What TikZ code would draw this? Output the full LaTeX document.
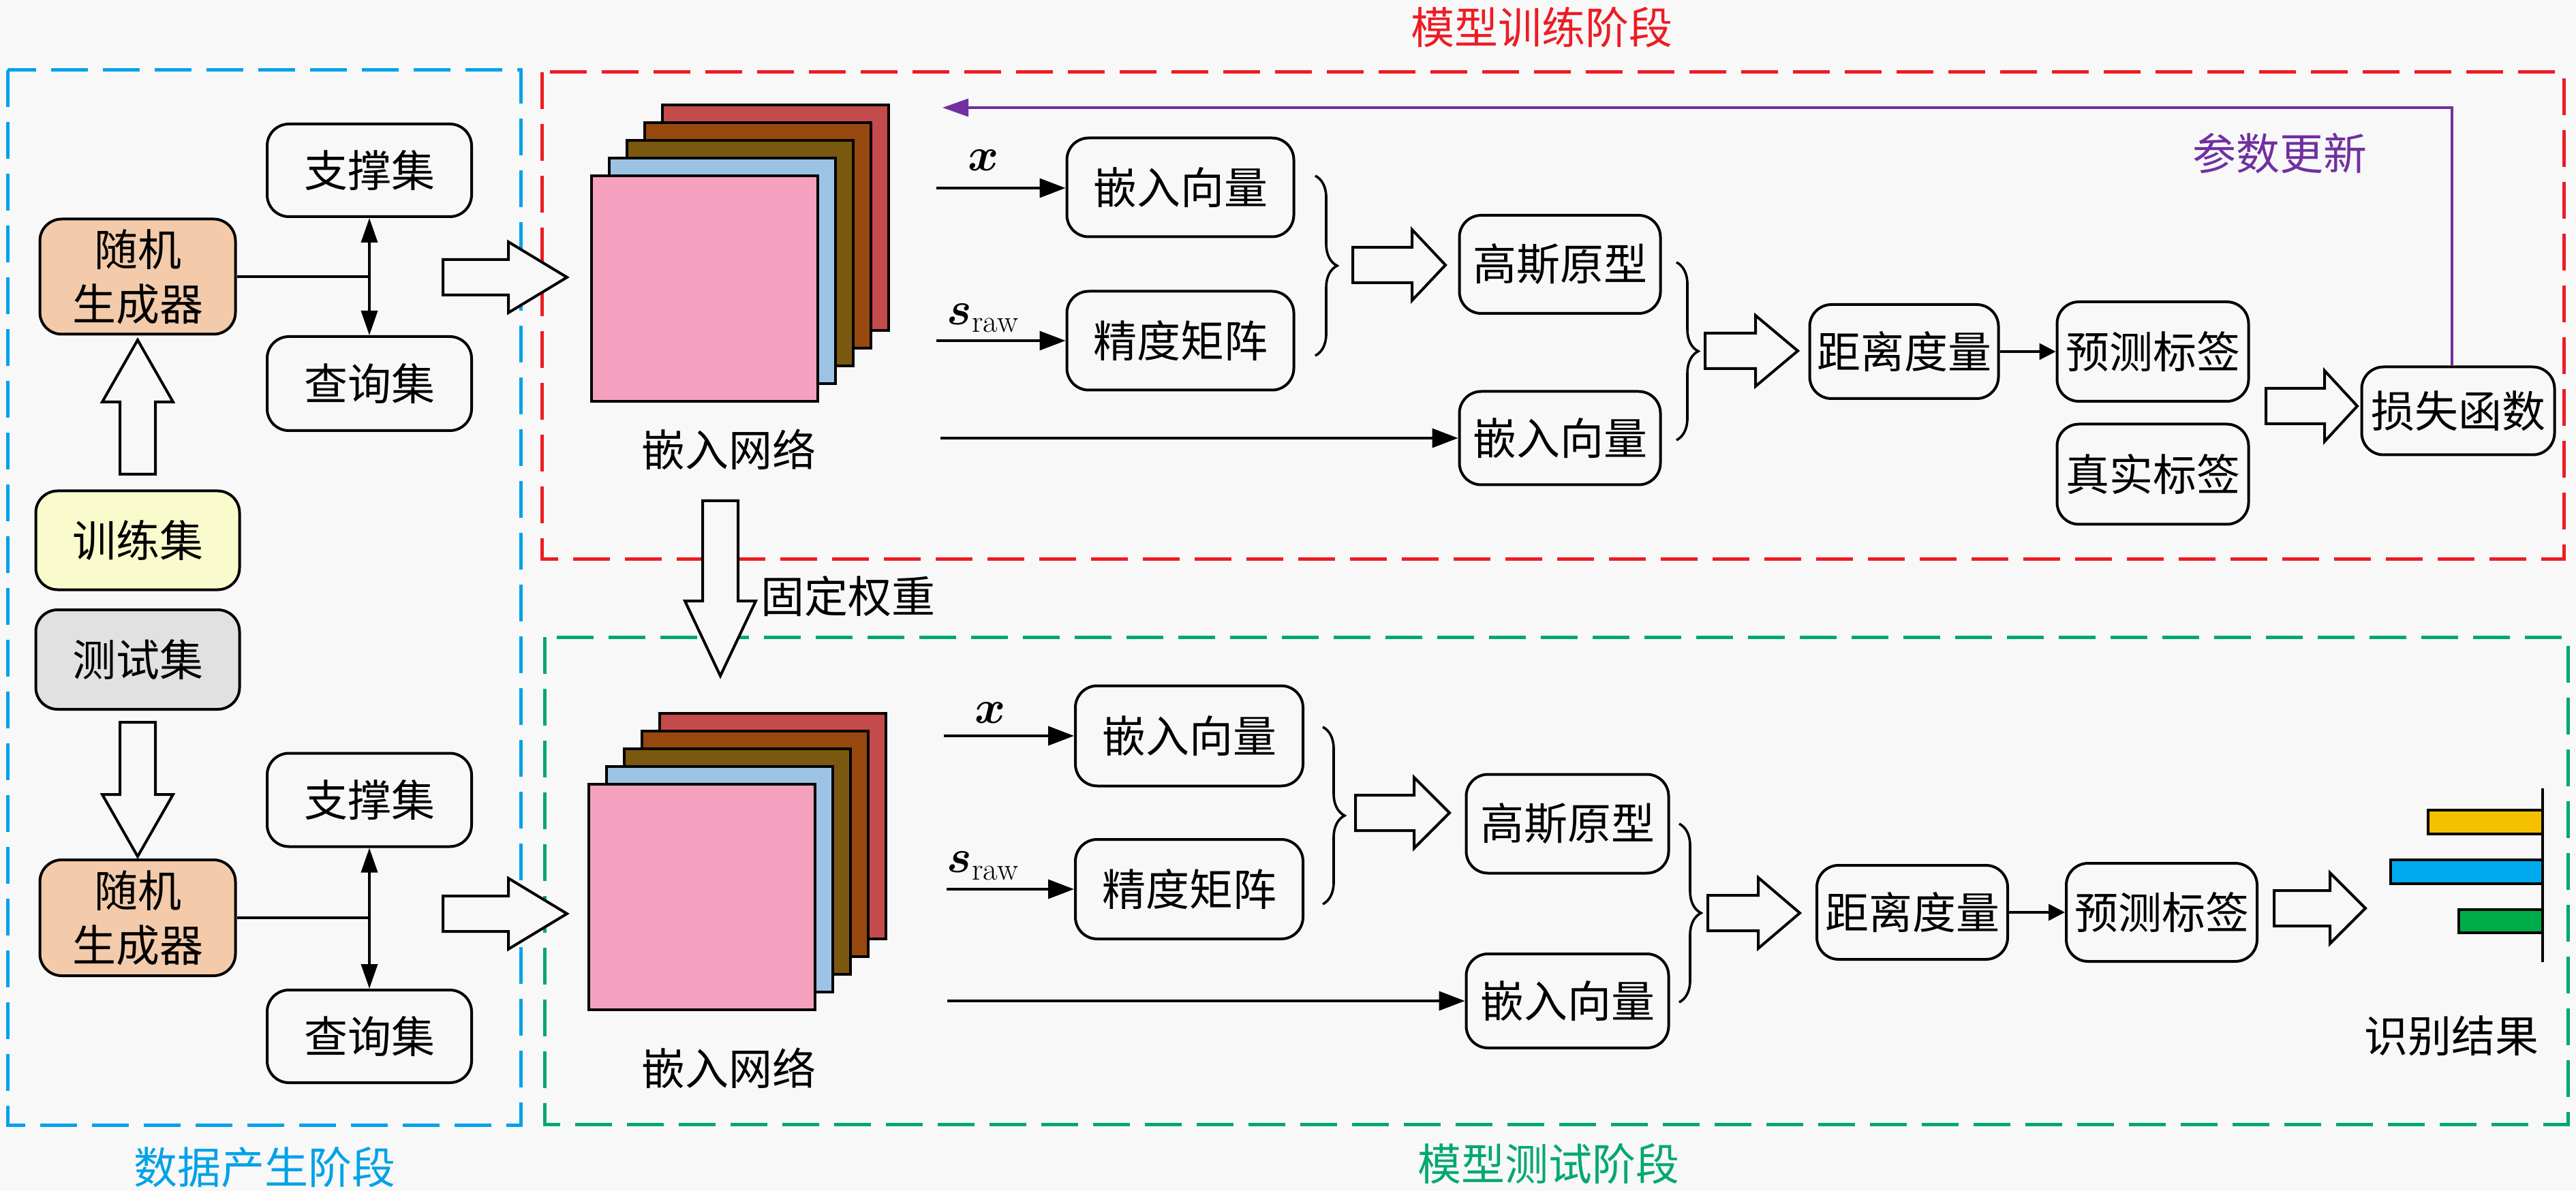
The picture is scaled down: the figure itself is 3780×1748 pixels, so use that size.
\documentclass[tikz,border=0pt]{standalone}
\usepackage{amsmath,amsbsy}
\usepackage{fontspec}
\newfontfamily\cjk{Noto Sans CJK SC}
\usetikzlibrary{arrows.meta,decorations.pathreplacing,calc}
\definecolor{bgc}{RGB}{248,248,248}
\definecolor{bluedash}{RGB}{0,162,232}
\definecolor{reddash}{RGB}{237,28,36}
\definecolor{greendash}{RGB}{0,168,110}
\definecolor{purp}{RGB}{112,48,160}
\definecolor{peach}{RGB}{243,203,170}
\definecolor{lightyellow}{RGB}{250,251,205}
\definecolor{lightgraybox}{RGB}{225,225,225}
\definecolor{laypink}{RGB}{244,160,190}
\definecolor{layblue}{RGB}{157,195,228}
\definecolor{layolive}{RGB}{122,88,16}
\definecolor{laybrown}{RGB}{150,72,14}
\definecolor{layred}{RGB}{195,75,75}
\definecolor{baryellow}{RGB}{245,192,0}
\definecolor{barblue}{RGB}{0,170,240}
\definecolor{bargreen}{RGB}{0,172,72}
% hollow block arrows: right-pointing (tail x, head base x, tip x, centre y)
\newcommand{\harrowR}[4]{\draw[blockarrow] ({#1},{#4-26}) -- ({#2},{#4-26}) -- ({#2},{#4-52}) -- ({#3},{#4}) -- ({#2},{#4+52}) -- ({#2},{#4+26}) -- ({#1},{#4+26}) -- cycle;}
% vertical (centre x, tail y, head base y, tip y)
\newcommand{\harrowV}[4]{\draw[blockarrow] ({#1-26},{#2}) -- ({#1-26},{#3}) -- ({#1-52},{#3}) -- ({#1},{#4}) -- ({#1+52},{#3}) -- ({#1+26},{#3}) -- ({#1+26},{#2}) -- cycle;}
\newcommand{\bigmath}[1]{\scalebox{1.38}{\fontsize{24}{30}\selectfont$#1$}}
\begin{document}
\begin{tikzpicture}[x=0.5pt,y=-0.5pt,
  box/.style={draw, line width=2pt, rounded corners=16pt, font=\cjk\fontsize{32}{40}\selectfont, align=center, inner sep=0pt},
  txt/.style={font=\cjk\fontsize{32}{40}\selectfont, inner sep=0pt},
  mtxt/.style={inner sep=0pt},
  stage/.style={line width=2.5pt, dash pattern=on 27pt off 11pt},
  conn/.style={line width=1.8pt, -{Triangle[length=19pt,width=14pt]}},
  dconn/.style={line width=1.8pt, {Triangle[length=18pt,width=12pt]}-{Triangle[length=18pt,width=12pt]}},
  sconn/.style={line width=1.8pt, -{Triangle[length=12pt,width=12pt]}},
  blockarrow/.style={draw, line width=2pt, fill=bgc, line join=miter},
  layer/.style={draw, line width=2pt, minimum width=166pt, minimum height=165.5pt, inner sep=0pt},
  brc/.style={decorate, decoration={brace, amplitude=16pt}, line width=1.8pt},
  bar/.style={draw, line width=2pt},
]
\fill[bgc] (0,0) rectangle (3780,1748);
\useasboundingbox (0,0) rectangle (3780,1748);

% stage frames
\draw[stage, bluedash] (11,103) rectangle (764,1651);
\draw[stage, reddash] (795,106) rectangle (3762,820);
\draw[stage, greendash] (799,935) rectangle (3768,1650);

% stage titles
\node[txt, text=reddash] (titleTrain) at (2262,40) {模型训练阶段};
\node[txt, text=bluedash] (titleData) at (388,1713) {数据产生阶段};
\node[txt, text=greendash] (titleTest) at (2272,1708) {模型测试阶段};

% ---------------- data generation ----------------
\node[box, minimum width=150pt, minimum height=68pt] (sup1) at (542,250) {支撑集};
\node[box, fill=peach, minimum width=143.5pt, minimum height=84.5pt] (gen1) at (202,406) {随机\\生成器};
\node[box, minimum width=150pt, minimum height=69pt] (qry1) at (542,563) {查询集};
\node[box, fill=lightyellow, minimum width=149.5pt, minimum height=72.5pt] (train) at (202,793) {训练集};
\node[box, fill=lightgraybox, minimum width=149.5pt, minimum height=73pt] (test) at (202,968) {测试集};
\node[box, fill=peach, minimum width=143.5pt, minimum height=85pt] (gen2) at (202,1347) {随机\\生成器};
\node[box, minimum width=150pt, minimum height=68.5pt] (sup2) at (542,1174) {支撑集};
\node[box, minimum width=150pt, minimum height=68pt] (qry2) at (542,1521) {查询集};

\draw[line width=1.8pt] (gen1.east) -- (gen1.east -| sup1.south);
\draw[dconn] (sup1.south) -- (qry1.north);
\draw[line width=1.8pt] (gen2.east) -- (gen2.east -| sup2.south);
\draw[dconn] (sup2.south) -- (qry2.north);

\harrowV{202}{696}{590}{499}
\harrowV{202}{1060}{1166}{1257}

% ---------------- embedding networks ----------------
\foreach \k/\c in {4/layred,3/laybrown,2/layolive,1/layblue}
  \node[layer, fill=\c] (netA\k) at ({1034+26*\k},{424-26*\k}) {};
\node[layer, fill=laypink] (netA) at (1034,424) {};
\node[txt] (netAlab) at (1069,660) {嵌入网络};

\foreach \k/\c in {4/layred,3/laybrown,2/layolive,1/layblue}
  \node[layer, fill=\c] (netB\k) at ({1030+26*\k},{1316-26*\k}) {};
\node[layer, fill=laypink] (netB) at (1030,1316) {};
\node[txt] (netBlab) at (1069,1568) {嵌入网络};

\harrowR{650}{746}{832}{407}
\harrowR{650}{746}{832}{1341}
\harrowV{1057}{735}{882}{992}
\node[txt] (fixw) at (1244,875) {固定权重};

% ---------------- training stage ----------------
\node[box, minimum width=166.5pt, minimum height=72.5pt] (embA) at (1732,275) {嵌入向量};
\node[box, minimum width=166.5pt, minimum height=72.5pt] (precA) at (1732,500) {精度矩阵};
\coordinate (xA) at (1374,276);
\coordinate (sA) at (1374,500);
\draw[conn] (xA) -- (xA -| embA.west);
\draw[conn] (sA) -- (sA -| precA.west);
\node[mtxt] (xlabA) at (1443,235) {\bigmath{\boldsymbol{x}}};
\node[mtxt] (slabA) at (1443,467) {\bigmath{\boldsymbol{s}_{\mathrm{raw}}}};
\draw[brc] (1930,258) -- (1930,522);
\harrowR{1985}{2072}{2121}{389}
\node[box, minimum width=147.5pt, minimum height=72pt] (gaussA) at (2289,388) {高斯原型};
\node[box, minimum width=147.5pt, minimum height=68.5pt] (embA2) at (2289,643) {嵌入向量};
\coordinate (lA) at (1380,643);
\draw[conn] (lA) -- (embA2.west);
\draw[brc] (2460,385) -- (2460,646);
\harrowR{2502}{2576}{2638}{515}
\node[box, minimum width=138.5pt, minimum height=69pt] (distA) at (2794,516) {距离度量};
\node[box, minimum width=140.5pt, minimum height=73pt] (predA) at (3159,516) {预测标签};
\node[box, minimum width=140.5pt, minimum height=73.5pt] (trueA) at (3159,696) {真实标签};
\draw[sconn] (distA.east) -- (predA.west);
\harrowR{3325}{3411}{3459}{596}
\node[box, minimum width=141.5pt, minimum height=64.5pt] (lossA) at (3607,603) {损失函数};
\coordinate (pB) at (3598,158);
\coordinate (pA) at (1383,158);
\draw[purp, line width=1.6pt, -{Triangle[length=19pt,width=13pt]}] (lossA.north -| pB) -- (pB) -- (pA);
\node[txt, text=purp] (upd) at (3345,225) {参数更新};

% ---------------- test stage ----------------
\node[box, minimum width=167pt, minimum height=73.5pt] (embB) at (1745,1080) {嵌入向量};
\node[box, minimum width=167pt, minimum height=73pt] (precB) at (1745,1305) {精度矩阵};
\coordinate (xB) at (1385,1080);
\coordinate (sB) at (1389,1305);
\draw[conn] (xB) -- (xB -| embB.west);
\draw[conn] (sB) -- (sB -| precB.west);
\node[mtxt] (xlabB) at (1453,1046) {\bigmath{\boldsymbol{x}}};
\node[mtxt] (slabB) at (1443,1271) {\bigmath{\boldsymbol{s}_{\mathrm{raw}}}};
\draw[brc] (1941,1067) -- (1941,1327);
\harrowR{1989}{2075}{2127}{1193}
\node[box, minimum width=148.5pt, minimum height=72.5pt] (gaussB) at (2300,1209) {高斯原型};
\node[box, minimum width=148.5pt, minimum height=69pt] (embB2) at (2300,1469) {嵌入向量};
\coordinate (lB) at (1390,1469);
\draw[conn] (lB) -- (embB2.west);
\draw[brc] (2464,1209) -- (2464,1471);
\harrowR{2506}{2580}{2641}{1340}
\node[box, minimum width=140pt, minimum height=69pt] (distB) at (2806,1339) {距离度量};
\node[box, minimum width=140pt, minimum height=72pt] (predB) at (3172,1339) {预测标签};
\draw[sconn] (distB.east) -- (predB.west);
\harrowR{3337}{3419}{3471}{1333}

% result bar chart
\coordinate (axT) at (3731,1157);
\coordinate (axB) at (3731,1412);
\draw[bar, fill=baryellow] (3563,1189) rectangle (3731,1224);
\draw[bar, fill=barblue] (3508,1262) rectangle (3731,1297);
\draw[bar, fill=bargreen] (3608,1335) rectangle (3731,1369);
\draw[line width=2pt] (axT) -- (axB);
\node[txt] (res) at (3597,1520) {识别结果};
\end{tikzpicture}
\end{document}
